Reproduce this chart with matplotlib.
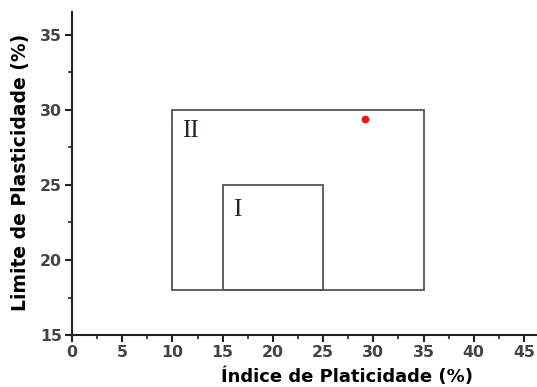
import matplotlib
matplotlib.use("Agg")
import matplotlib.pyplot as plt
from matplotlib.patches import Rectangle
from matplotlib.ticker import MultipleLocator

# zones: (name, x0, y0, x1, y1, label_x, label_y)
zone_names = ["II", "I"]
zone_x0 = [10, 15]
zone_y0 = [18, 18]
zone_x1 = [35, 25]
zone_y1 = [30, 25]
label_x = [11.0, 16.0]
label_y = [28.6, 23.3]

# measured sample
sample_ip = [29.2]
sample_lp = [29.4]

fig = plt.figure(figsize=(5.37, 3.87), dpi=100)
ax = fig.add_axes([0.134, 0.134, 0.866, 0.835])

for name, x0, y0, x1, y1, lx, ly in zip(zone_names, zone_x0, zone_y0,
                                        zone_x1, zone_y1, label_x, label_y):
    ax.add_patch(Rectangle((x0, y0), x1 - x0, y1 - y0, fill=False,
                           edgecolor="#555555", linewidth=1.3))
    ax.text(lx, ly, name, family="Liberation Serif", fontsize=18,
            color="#2b1d3a", va="center", ha="left")

ax.plot(sample_ip, sample_lp, "o", color="#ee1111", markersize=4.5)

ax.set_xlim(0, 46.3)
ax.set_ylim(15, 36.5)
ax.xaxis.set_major_locator(MultipleLocator(5))
ax.xaxis.set_minor_locator(MultipleLocator(2.5))
ax.yaxis.set_major_locator(MultipleLocator(5))
ax.yaxis.set_minor_locator(MultipleLocator(2.5))

for side in ("top", "right"):
    ax.spines[side].set_visible(False)
for side in ("left", "bottom"):
    ax.spines[side].set_linewidth(1.5)
    ax.spines[side].set_color("#222222")

ax.tick_params(which="major", length=5, width=1.5, color="#222222",
               labelsize=11.3, labelcolor="#444444", pad=2)
ax.tick_params(which="minor", length=3, width=1.2, color="#222222")
for lab in ax.get_xticklabels() + ax.get_yticklabels():
    lab.set_family("DejaVu Sans")
    lab.set_fontweight("bold")

fig.text(0.647, 0.026, "Índice de Platicidade (%)", family="DejaVu Sans",
         fontweight="bold", fontsize=13, ha="center", va="center")
fig.text(0.038, 0.555, "Limite de Plasticidade (%)", family="DejaVu Sans",
         fontweight="bold", fontsize=13.5, ha="center", va="center",
         rotation=90)

fig.savefig("out.png", dpi=100)
